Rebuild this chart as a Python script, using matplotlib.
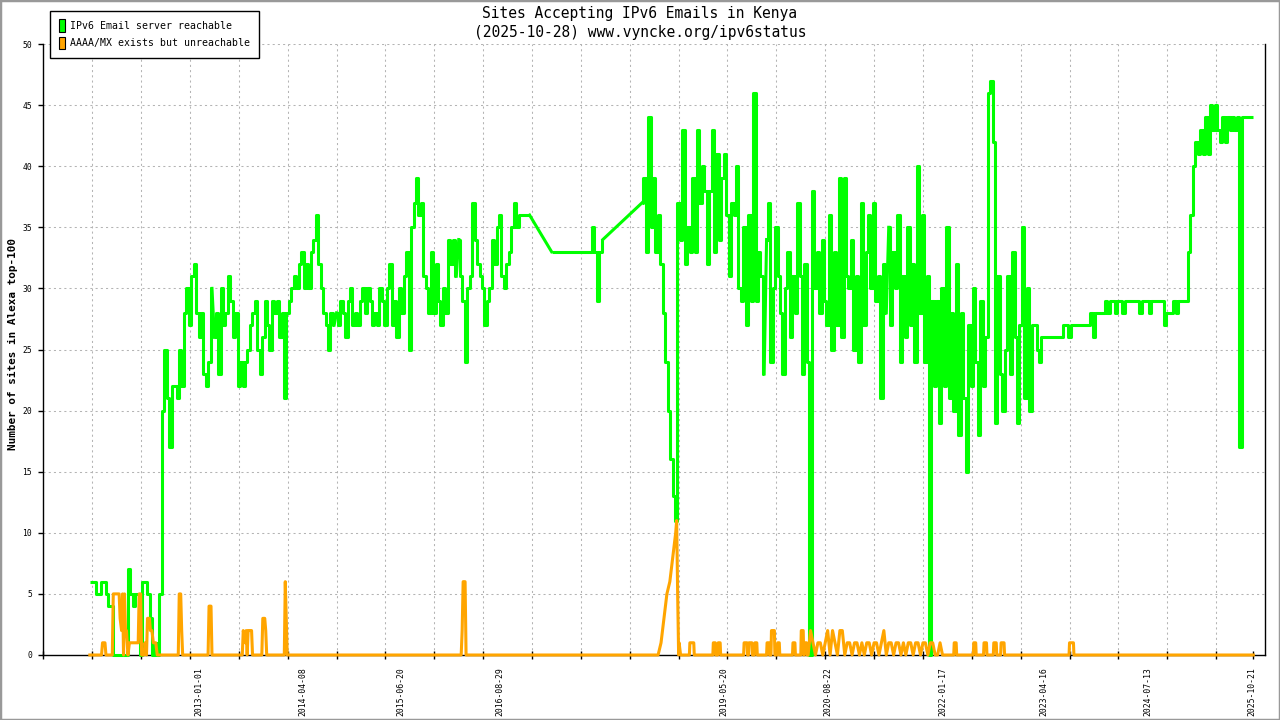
# -*- coding: utf-8 -*-
import numpy as np
import matplotlib
matplotlib.use('Agg')
import matplotlib.pyplot as plt
from matplotlib.patches import Patch, Rectangle
from matplotlib.ticker import FixedLocator, FixedFormatter, NullFormatter

plt.rcParams['font.family'] = ['DejaVu Sans Mono']

# x axis is the sample index of the original chart (not linear in time)
# green runs: values every 0.5 index units, starting at green_starts
green_starts = [9.5, 35, 60, 85, 104, 122.5, 148, 173, 203]

g_2012 = [6, 6, 6, 5, 5, 6, 6, 5, 4, 4,
          0, 0, 0, 0, 0, 0, 7, 5, 4, 5,
          5, 0, 6, 6, 5, 3, 0, 1, 0, 5,
          20, 25, 21, 17, 22, 22, 21, 25, 22, 28,
          30, 27, 31, 32, 28, 26, 28, 23, 22, 24,
          30]
g_2013 = [26, 28, 23, 30, 27, 28, 31, 29, 26, 28,
          22, 24, 22, 24, 25, 27, 28, 29, 25, 23,
          26, 29, 27, 25, 29, 28, 29, 26, 28, 21,
          28, 29, 30, 31, 30, 32, 33, 30, 32, 30,
          33, 34, 36, 32, 30, 28, 27, 25, 28, 27]
g_2015 = [28, 27, 29, 28, 26, 29, 30, 27, 28, 27,
          29, 30, 28, 30, 29, 27, 28, 27, 30, 29,
          27, 30, 32, 27, 29, 26, 30, 28, 31, 33,
          25, 35, 37, 39, 36, 37, 31, 30, 28, 33,
          28, 32, 29, 27, 30, 28, 34, 32, 34, 31]
g_2016 = [34, 31, 29, 24, 30, 31, 37, 34, 32, 31,
          30, 27, 29, 30, 34, 32, 35, 36, 31, 30,
          32, 33, 35, 37, 35, 36, 36, 36, 36, 36]
g_2017 = [33, 33, 33, 33, 33, 33, 33, 33, 33, 33,
          33, 33, 33, 33, 33, 33, 33, 35, 33, 29,
          33, 34]
g_2018 = [37, 39, 33, 44, 35, 39, 33, 36, 32, 28,
          24, 20, 16, 13, 11, 37, 34, 43, 32, 35,
          33, 39, 33, 43, 37, 40, 38, 32, 38, 43,
          33, 41, 34, 39, 41, 36, 31, 37, 36, 40,
          30, 29, 35, 27, 36, 29, 46, 29, 33, 31,
          23]
g_2019 = [34, 37, 24, 30, 35, 31, 28, 23, 30, 33,
          26, 31, 28, 37, 31, 23, 32, 24, 0, 38,
          30, 33, 28, 34, 29, 27, 36, 25, 33, 27,
          39, 26, 39, 31, 30, 34, 25, 31, 24, 37,
          27, 33, 36, 30, 37, 29, 31, 21, 32, 28]
g_2021 = [35, 27, 33, 30, 36, 24, 31, 26, 35, 27,
          32, 24, 40, 28, 36, 24, 31, 0, 29, 22,
          29, 19, 30, 22, 35, 21, 28, 20, 32, 18,
          28, 21, 15, 27, 22, 30, 24, 18, 29, 22,
          26, 46, 47, 42, 19, 31, 23, 20, 25, 31,
          23, 33, 26, 19, 27, 35, 21, 30, 20, 27]
g_2023 = [27, 25, 24, 26, 26, 26, 26, 26, 26, 26,
          26, 26, 27, 27, 26, 27, 27, 27, 27, 27,
          27, 27, 27, 28, 26, 28, 28, 28, 28, 29,
          28, 29, 29, 28, 29, 29, 28, 29, 29, 29,
          29, 29, 29, 28, 29, 29, 29, 28, 29, 29,
          29, 29, 29, 27, 28, 28, 28, 29, 28, 29,
          29, 29, 29, 33, 36, 40, 42, 41, 43, 41,
          44, 41, 45, 43, 45, 43, 42, 44, 42, 44,
          43, 44, 43, 44, 17, 44, 44, 44, 44, 44]
green_runs = [g_2012, g_2013, g_2015, g_2016, g_2017, g_2018, g_2019, g_2021, g_2023]

# orange: breakpoints (index, value)
orange_u = [9.5, 11.9, 12.1, 12.6, 12.8, 14.1, 14.3, 15.5, 15.7, 16.0,
            16.2, 16.4, 16.6, 16.8, 17.0, 17.3, 17.6, 19.4, 19.6, 19.9,
            20.1, 20.6, 20.8, 21.1, 21.3, 21.7, 21.9, 22.2, 22.5, 23.0,
            23.3, 27.6, 27.8, 28.1, 28.3, 28.5, 33.7, 33.9, 34.3, 34.5,
            40.7, 40.9, 41.3, 41.5, 41.7, 41.9, 42.6, 42.8, 44.7, 44.9,
            45.3, 45.5, 45.7, 49.3, 49.5, 49.7, 49.9, 85.5, 85.7, 85.9,
            86.3, 86.5, 125.8, 126.4, 127.0, 127.6, 128.2, 128.8, 129.4, 129.6,
            129.8, 130.0, 130.1, 130.4, 132.2, 132.3, 133.1, 133.2, 137.0, 137.1,
            137.5, 137.6, 138.0, 138.1, 138.5, 138.6, 143.3, 143.4, 144.0, 144.1,
            144.3, 144.4, 145.0, 145.1, 145.5, 145.6, 146.0, 146.1, 148.0, 148.1,
            148.5, 148.6, 148.9, 149.0, 149.6, 149.7, 150.2, 150.3, 150.6, 150.7,
            153.3, 153.4, 153.8, 153.9, 155.0, 155.1, 155.5, 155.6, 155.7, 155.8,
            156.2, 156.3, 156.5, 157.0, 157.5, 158.0, 158.5, 159.0, 159.5, 160.0,
            160.5, 161.0, 161.5, 162.0, 162.5, 163.0, 163.5, 164.0, 164.5, 165.0,
            165.5, 166.0, 166.5, 167.0, 167.5, 168.0, 168.5, 169.0, 169.5, 170.0,
            170.5, 171.0, 171.5, 172.0, 172.5, 173.0, 173.5, 174.0, 174.5, 175.0,
            175.5, 176.0, 176.5, 177.0, 177.5, 178.0, 178.5, 179.0, 179.5, 180.0,
            180.5, 181.0, 181.5, 182.0, 182.5, 183.0, 183.5, 184.0, 186.3, 186.4,
            186.8, 186.9, 190.3, 190.4, 190.8, 190.9, 192.4, 192.5, 193.0, 193.1,
            194.4, 194.5, 195.0, 195.1, 195.9, 196.0, 196.6, 196.7, 209.9, 210.0,
            210.8, 210.9, 247.6]
orange_v = [0, 0, 1, 1, 0, 0, 5, 5, 3, 2,
            5, 0, 5, 2, 2, 0, 1, 1, 5, 5,
            0, 0, 1, 0, 3, 3, 2, 2, 1, 1,
            0, 0, 5, 5, 2, 0, 0, 4, 4, 0,
            0, 2, 1, 2, 0, 2, 2, 0, 0, 3,
            3, 2, 0, 0, 6, 3, 0, 0, 2, 6,
            6, 0, 0, 1, 3, 5, 6, 8, 10, 11,
            5, 0, 1, 0, 0, 1, 1, 0, 0, 1,
            1, 0, 0, 1, 1, 0, 0, 1, 1, 0,
            0, 1, 1, 0, 0, 1, 1, 0, 0, 1,
            1, 0, 0, 2, 2, 0, 0, 1, 1, 0,
            0, 1, 1, 0, 0, 2, 2, 0, 0, 1,
            1, 0, 0, 2, 1, 0, 1, 1, 0, 1,
            2, 0, 2, 1, 0, 2, 2, 0, 1, 1,
            0, 1, 1, 0, 1, 0, 1, 1, 0, 1,
            1, 0, 1, 2, 0, 1, 1, 0, 1, 1,
            0, 1, 0, 1, 1, 0, 1, 1, 0, 1,
            1, 0, 1, 1, 0, 0, 1, 0, 0, 1,
            1, 0, 0, 1, 1, 0, 0, 1, 1, 0,
            0, 1, 1, 0, 0, 1, 1, 0, 0, 1,
            1, 0, 0]

label_pos = [31.84, 53.02, 73.17, 93.33, 139.2, 160.5, 184.1, 204.8, 226.1, 247.35]
date_labels = ['2013-01-01', '2014-04-08', '2015-06-20', '2016-08-29', '2019-05-20',
               '2020-08-22', '2022-01-17', '2023-04-16', '2024-07-13', '2025-10-21']

GREEN = '#00ff00'
ORANGE = '#ffa500'
LW = 2.2

fig = plt.figure(figsize=(12.8, 7.2), dpi=100)
ax = fig.add_axes([43.4 / 1280, 65 / 720, (1264.5 - 43.4) / 1280, 611 / 720])

ax.set_xlim(0, 249.9)
ax.set_ylim(0, 50)

# dotted grid
for v in range(10, 241, 10):
    ax.axvline(v, color='#b4b4b4', lw=0.75, ls=(0, (2, 3)), zorder=1)
for v in range(5, 51, 5):
    ax.axhline(v, color='#b4b4b4', lw=0.75, ls=(0, (2, 3)), zorder=1)

# green: each run drawn as steps, gaps joined by straight lines
prev = None
for s, r in zip(green_starts, green_runs):
    xs = s + 0.5 * np.arange(len(r))
    ax.plot(xs, r, color=GREEN, lw=LW, drawstyle='steps-mid', zorder=3,
            clip_on=False, solid_capstyle='butt')
    if prev is not None:
        ax.plot([prev[0], xs[0]], [prev[1], r[0]], color=GREEN, lw=LW, zorder=3,
                clip_on=False)
    prev = (xs[-1], r[-1])

ax.plot(orange_u, orange_v, color=ORANGE, lw=LW, zorder=4, clip_on=False)

ax.xaxis.set_major_locator(FixedLocator(list(range(0, 241, 10)) + [247.6]))
ax.xaxis.set_major_formatter(NullFormatter())
ax.xaxis.set_minor_locator(FixedLocator(label_pos))
ax.xaxis.set_minor_formatter(FixedFormatter(date_labels))
ax.tick_params(axis='x', which='major', direction='inout', length=6, width=1)
ax.tick_params(axis='x', which='minor', length=0, pad=8.6, labelsize=5.9,
               labelrotation=90)
ax.set_yticks(range(0, 51, 5))
ax.tick_params(axis='y', direction='out', length=3.6, width=1, labelsize=5.8, pad=4.5)

ax.spines['top'].set_visible(False)
for s in ('left', 'bottom', 'right'):
    ax.spines[s].set_linewidth(1.0)
    ax.spines[s].set_color('black')

fig.text(0.5, 1 - 13.3 / 720, 'Sites Accepting IPv6 Emails in Kenya',
         ha='center', va='center', fontsize=10.5)
fig.text(0.5, 1 - 32.3 / 720, '(2025-10-28) www.vyncke.org/ipv6status',
         ha='center', va='center', fontsize=10.5)
fig.text(13 / 1280, 1 - 344 / 720, 'Number of sites in Alexa top-100',
         rotation=90, ha='center', va='center', fontsize=7.9, fontweight='bold')

handles = [Patch(facecolor=GREEN, edgecolor='black', lw=0.8,
                 label='IPv6 Email server reachable'),
           Patch(facecolor=ORANGE, edgecolor='black', lw=0.8,
                 label='AAAA/MX exists but unreachable')]
leg = fig.legend(handles=handles, loc='upper left',
                 bbox_to_anchor=(50.3 / 1280, 1 - 10.7 / 720),
                 fontsize=7.1, handlelength=0.61, handleheight=1.6,
                 handletextpad=0.55, labelspacing=0.5, borderpad=0.85,
                 borderaxespad=0, frameon=True, fancybox=False,
                 edgecolor='black', framealpha=1)
leg.get_frame().set_linewidth(1.0)

fig.patches.append(Rectangle((0, 0), 1, 1, transform=fig.transFigure,
                             fill=False, edgecolor='#999999', lw=2.5))

fig.savefig('out.png', dpi=100)
